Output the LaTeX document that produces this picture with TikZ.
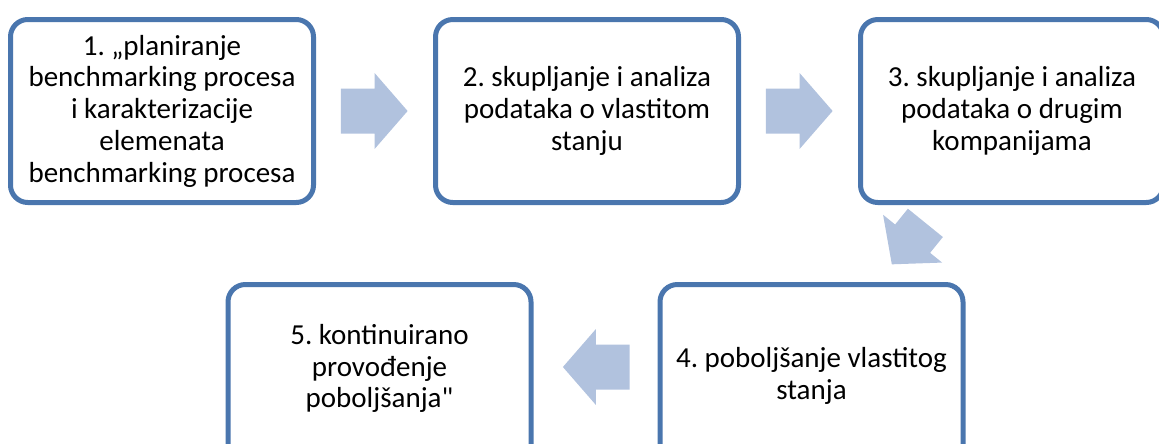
\documentclass[tikz,border=0pt]{standalone}
\usepackage{fontspec}
\setmainfont{Carlito}[Ligatures=TeXOff]
\usetikzlibrary{shapes.arrows}
\definecolor{boxblue}{RGB}{74,118,174}
\definecolor{arrowblue}{RGB}{177,194,222}
\frenchspacing
\tikzset{every picture/.style={line width=0.75pt}}
\tikzset{
  stepbox/.style={draw=boxblue, line width=3.75pt, rounded corners=13pt, fill=white,
    minimum width=227.25pt, minimum height=137.25pt, align=center, inner sep=0pt,
    font=\fontsize{21.75pt}{23.8pt}\selectfont},
  blockarrow/.style={single arrow, fill=arrowblue, draw=none, inner xsep=0pt, inner ysep=16.5pt,
    single arrow head extend=11.6pt, single arrow tip angle=98,
    minimum height=50pt}
}
\begin{document}
\begin{tikzpicture}[x=0.75pt,y=0.75pt,yscale=-1,xscale=1]
\useasboundingbox (0,0) rectangle (1159,443);
\clip (0,0) rectangle (1159,443);

%Shape: Rounded Rectangle [id:step1]
\node[stepbox] (plan) at (162,111) {1. „planiranje\\benchmarking procesa\\i karakterizacije\\elemenata\\benchmarking procesa};
%Shape: Rounded Rectangle [id:step2]
\node[stepbox] (vlastito) at (587,111) {2. skupljanje i analiza\\podataka o vlastitom\\stanju};
%Shape: Rounded Rectangle [id:step3]
\node[stepbox] (drugi) at (1012,111) {3. skupljanje i analiza\\podataka o drugim\\kompanijama};
%Shape: Rounded Rectangle [id:step4]
\node[stepbox] (poboljsanje) at (811.5,376) {4. poboljšanje vlastitog\\stanja};
%Shape: Rounded Rectangle [id:step5]
\node[stepbox, text depth=15pt] (provodjenje) at (379.5,376) {5. kontinuirano\\provođenje\\poboljšanja"};

%Block Arrows
\node[blockarrow] (plan-vlastito) at (364.5,111) {};
\node[blockarrow] (vlastito-drugi) at (789.5,111) {};
\node[blockarrow, minimum height=40pt, rotate=231] (drugi-poboljsanje) at (914.75,236) {};
\node[blockarrow, rotate=180] (poboljsanje-provodjenje) at (606,367) {};

\end{tikzpicture}
\end{document}
